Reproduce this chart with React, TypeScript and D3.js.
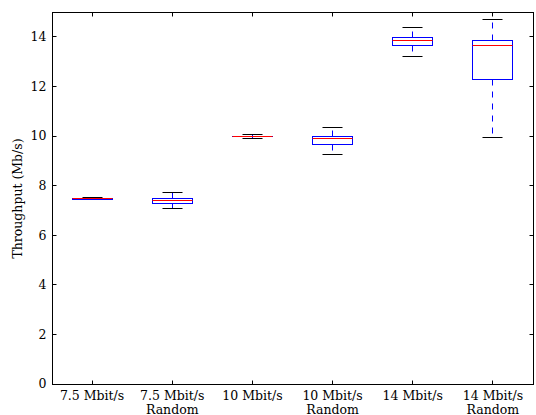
import React from "react";
import * as d3 from "d3";

const categories = ["7.5 Mbit/s", "7.5 Mbit/s\nRandom", "10 Mbit/s", "10 Mbit/s\nRandom", "14 Mbit/s", "14 Mbit/s\nRandom"];
const whiskerLow = [7.42, 7.06, 9.9, 9.26, 13.2, 9.92];
const q1 = [7.45, 7.28, 9.96, 9.66, 13.64, 12.26];
const median = [7.48, 7.4, 9.98, 9.9, 13.87, 13.63];
const q3 = [7.5, 7.48, 10.0, 10.0, 13.96, 13.84];
const whiskerHigh = [7.52, 7.71, 10.08, 10.35, 14.36, 14.68];
const yTicks = [0, 2, 4, 6, 8, 10, 12, 14];

const W = 536, H = 415;
const m = { left: 52, right: 3, top: 12, bottom: 31 };
const FONT = "DejaVu Serif";
const FS = 12.5;
const p = (v: number) => Math.round(v - 0.5) + 0.5;

export default function App() {
  const x = d3.scaleLinear().domain([0.5, categories.length + 0.5]).range([m.left, W - m.right]);
  const y = d3.scaleLinear().domain([0, 15]).range([H - m.bottom, m.top]);
  const step = x(2) - x(1);
  const boxW = step * 0.5;
  const capW = boxW * 0.5;
  const x0 = p(m.left), x1 = p(W - m.right), y0 = p(H - m.bottom), y1 = p(m.top);
  const tl = 4;
  return (
    <svg width={W} height={H} style={{ position: "absolute", left: 0, top: 0, background: "#fff" }}>
      {categories.map((c, i) => {
        const cx = p(x(i + 1));
        const bl = p(cx - boxW / 2), br = p(cx + boxW / 2);
        const yq1 = p(y(q1[i])), yq3 = p(y(q3[i]));
        return (
          <g key={i}>
            <line x1={cx} x2={cx} y1={yq1} y2={p(y(whiskerLow[i]))} stroke="#0000ff" strokeWidth={1} strokeDasharray="6,6" />
            <line x1={cx} x2={cx} y1={yq3} y2={p(y(whiskerHigh[i]))} stroke="#0000ff" strokeWidth={1} strokeDasharray="6,6" />
            <line x1={p(cx - capW / 2)} x2={p(cx + capW / 2)} y1={p(y(whiskerLow[i]))} y2={p(y(whiskerLow[i]))} stroke="#000" strokeWidth={1} />
            <line x1={p(cx - capW / 2)} x2={p(cx + capW / 2)} y1={p(y(whiskerHigh[i]))} y2={p(y(whiskerHigh[i]))} stroke="#000" strokeWidth={1} />
            <rect x={bl} y={yq3} width={br - bl} height={Math.max(0.01, yq1 - yq3)} fill="none" stroke="#0000ff" strokeWidth={1} />
            <line x1={bl} x2={br} y1={p(y(median[i]))} y2={p(y(median[i]))} stroke="#ff0000" strokeWidth={1} />
          </g>
        );
      })}
      {yTicks.map((t) => (
        <g key={"y" + t}>
          <line x1={x0} x2={x0 + tl} y1={p(y(t))} y2={p(y(t))} stroke="#000" />
          <line x1={x1} x2={x1 - tl} y1={p(y(t))} y2={p(y(t))} stroke="#000" />
        </g>
      ))}
      {categories.map((c, i) => (
        <g key={"xt" + i}>
          <line x1={p(x(i + 1))} x2={p(x(i + 1))} y1={y0} y2={y0 - tl} stroke="#000" />
          <line x1={p(x(i + 1))} x2={p(x(i + 1))} y1={y1} y2={y1 + tl} stroke="#000" />
        </g>
      ))}
      <rect x={x0} y={y1} width={x1 - x0} height={y0 - y1} fill="none" stroke="#000" strokeWidth={1} />
      {yTicks.map((t) => (
        <text key={"yl" + t} x={x0 - 6} y={y(t)} dy="0.35em" textAnchor="end" fontFamily={FONT} fontSize={FS} fill="#000">{t}</text>
      ))}
      {categories.map((c, i) => (
        <g key={"xl" + i}>
          {c.split("\n").map((l, j) => (
            <text key={j} x={x(i + 1)} y={y0 + 15 + j * 14} textAnchor="middle" fontFamily={FONT} fontSize={FS} fill="#000">{l}</text>
          ))}
        </g>
      ))}
      <text transform={`translate(22,${(y0 + y1) / 2}) rotate(-90)`} textAnchor="middle" fontFamily={FONT} fontSize={FS} fill="#000">Throughput (Mb/s)</text>
    </svg>
  );
}
